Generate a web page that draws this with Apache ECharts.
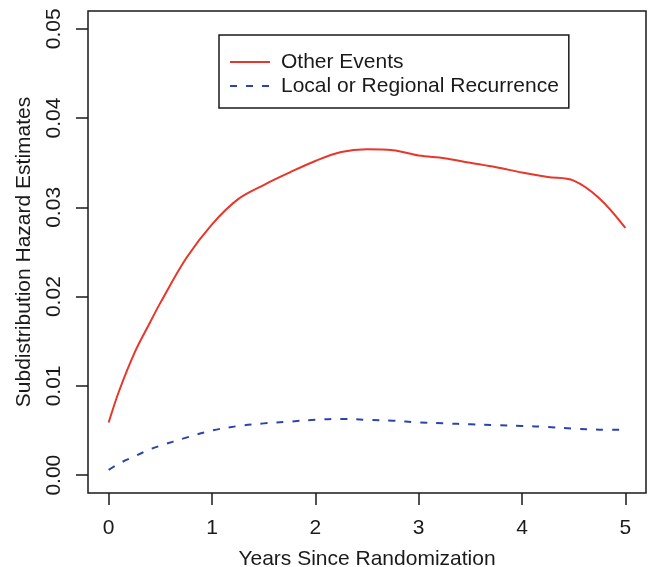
<!DOCTYPE html>
<html>
<head>
<meta charset="utf-8">
<script src="https://cdn.jsdelivr.net/npm/echarts@6/dist/echarts.min.js"></script>
<style>
  html, body { margin: 0; padding: 0; background: #fff; }
  #chart { width: 648px; height: 567px; }
</style>
</head>
<body>
<div id="chart"></div>
<script>
// Follow-up time (years) at which the hazard curves are sampled
const years = [0, 0.1, 0.25, 0.4, 0.5, 0.75, 1, 1.25, 1.5, 1.75, 2, 2.25, 2.5, 2.75,
               3, 3.25, 3.5, 3.75, 4, 4.25, 4.5, 4.75, 5];

// Subdistribution hazard estimates
const otherEvents = [0.0059, 0.0094, 0.0137, 0.0171, 0.0193, 0.0243, 0.0281, 0.0309, 0.0325,
                     0.0339, 0.0352, 0.0362, 0.0365, 0.0364, 0.0358, 0.0355, 0.0350, 0.0345,
                     0.0339, 0.0334, 0.0330, 0.0310, 0.0277];
const localRegional = [0.0006, 0.0013, 0.0021, 0.0029, 0.0033, 0.0042, 0.0050, 0.0055, 0.0058,
                       0.0060, 0.0062, 0.0063, 0.0062, 0.0061, 0.0059, 0.0058, 0.0057, 0.0056,
                       0.0055, 0.0054, 0.0052, 0.0051, 0.0051];

// Tick positions
const xTicks = [0, 1, 2, 3, 4, 5];
const yTicks = [0, 0.01, 0.02, 0.03, 0.04, 0.05];

const seriesNames = ['Other Events', 'Local or Regional Recurrence'];

const FONT = '"Liberation Sans", Arial, Helvetica, sans-serif';
const FS = 21;
const INK = '#1a1a1a';

const pairs = (xs, ys) => xs.map((x, i) => [x, ys[i]]);

const chart = echarts.init(document.getElementById('chart'), null, { renderer: 'canvas' });

chart.setOption({
  backgroundColor: '#ffffff',
  animation: false,
  grid: {
    left: 88, right: 2, top: 11, bottom: 74,
    containLabel: false,
    outerBoundsMode: 'none',
    show: true,
    borderColor: INK,
    borderWidth: 1.5,
    backgroundColor: 'transparent'
  },
  legend: {
    data: seriesNames,
    orient: 'vertical',
    left: 219,
    top: 35,
    backgroundColor: '#fff',
    borderColor: INK,
    borderWidth: 1.5,
    borderRadius: 0,
    padding: [16, 10, 11, 10],
    itemWidth: 40,
    itemHeight: 20,
    itemGap: 2,
    selectedMode: false,
    itemStyle: { opacity: 0 },
    textStyle: { fontFamily: FONT, fontSize: FS, lineHeight: 22, color: INK, padding: [0, 0, 0, 6] }
  },
  xAxis: {
    type: 'value',
    min: -0.2,
    max: 5.2,
    name: 'Years Since Randomization',
    nameLocation: 'middle',
    nameGap: 56,
    nameTextStyle: { fontFamily: FONT, fontSize: FS, color: INK },
    axisLine: { show: false, onZero: false },
    splitLine: { show: false },
    axisTick: {
      show: true, inside: false, length: 12,
      customValues: xTicks,
      lineStyle: { color: INK, width: 1.5 }
    },
    axisLabel: {
      customValues: xTicks,
      margin: 25,
      fontFamily: FONT, fontSize: FS, color: INK,
      formatter: v => String(v)
    }
  },
  yAxis: {
    type: 'value',
    min: -0.002,
    max: 0.052,
    name: 'Subdistribution Hazard Estimates',
    nameLocation: 'middle',
    nameRotate: 90,
    nameGap: 53,
    nameTextStyle: { fontFamily: FONT, fontSize: FS, color: INK },
    axisLine: { show: false, onZero: false },
    splitLine: { show: false },
    axisTick: {
      show: true, inside: false, length: 12,
      customValues: yTicks,
      lineStyle: { color: INK, width: 1.5 }
    },
    axisLabel: {
      customValues: yTicks,
      rotate: 90,
      margin: 23,
      fontFamily: FONT, fontSize: FS, color: INK,
      formatter: v => v.toFixed(2)
    }
  },
  series: [
    {
      name: seriesNames[0],
      type: 'line',
      data: pairs(years, otherEvents),
      smooth: 0.35,
      symbol: 'none',
      color: '#e8362a',
      lineStyle: { color: '#e8362a', width: 2 }
    },
    {
      name: seriesNames[1],
      type: 'line',
      data: pairs(years, localRegional),
      smooth: 0.35,
      symbol: 'none',
      color: '#2a44a8',
      lineStyle: { color: '#2a44a8', width: 2, type: [7, 9] }
    }
  ]
});
</script>
</body>
</html>
